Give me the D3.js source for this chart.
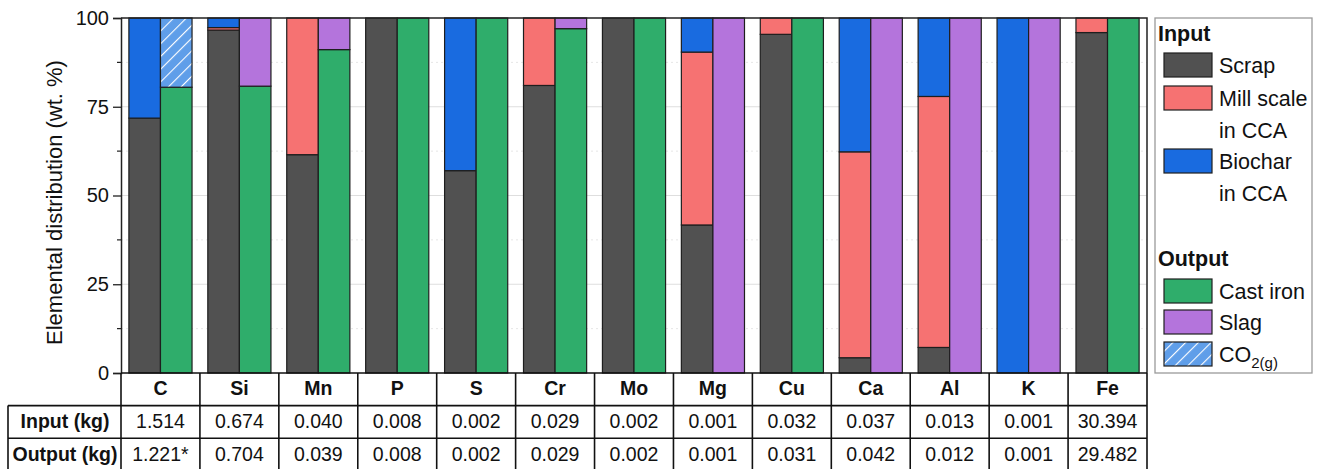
<!DOCTYPE html>
<html>
<head>
<meta charset="utf-8">
<script src="https://d3js.org/d3.v7.min.js"></script>
<style>
  body { margin: 0; background: #fff; }
  svg { display: block; font-family: "Liberation Sans", Arial, sans-serif; }
</style>
</head>
<body>
<div id="chart"></div>
<script>
// categories (elements)
const categories = ["C", "Si", "Mn", "P", "S", "Cr", "Mo", "Mg", "Cu", "Ca", "Al", "K", "Fe"];

// input distribution (wt.%)
const scrap     = [71.8, 96.6, 61.5, 100, 57.0, 81.0, 100, 41.7, 95.4, 4.3, 7.2, 0, 95.9];
const millScale = [0, 0.7, 38.5, 0, 0, 19.0, 0, 48.7, 4.6, 58.0, 70.7, 0, 4.1];
const biochar   = [28.2, 2.7, 0, 0, 43.0, 0, 0, 9.6, 0, 37.7, 22.1, 100, 0];

// output distribution (wt.%)
const castIron = [80.5, 80.8, 91.1, 100, 100, 97.0, 100, 0, 100, 0, 0, 0, 100];
const slag     = [0, 19.2, 8.9, 0, 0, 3.0, 0, 100, 0, 100, 100, 100, 0];
const co2      = [19.5, 0, 0, 0, 0, 0, 0, 0, 0, 0, 0, 0, 0];

// table rows
const inputKg  = ["1.514", "0.674", "0.040", "0.008", "0.002", "0.029", "0.002", "0.001", "0.032", "0.037", "0.013", "0.001", "30.394"];
const outputKg = ["1.221*", "0.704", "0.039", "0.008", "0.002", "0.029", "0.002", "0.001", "0.031", "0.042", "0.012", "0.001", "29.482"];

const yTicks = [0, 25, 50, 75, 100];
const yMinor = [12.5, 37.5, 62.5, 87.5];

const colors = {
  scrap: "#515151", mill: "#f67272", biochar: "#196be0",
  cast: "#2fad6b", slag: "#b474dc", co2: "#5f9ee9"
};

const W = 1320, H = 469;
const plot = { left: 121, right: 1147, top: 18, bottom: 373 };
const rowH = 32.6;
const tableFont = 19.5;

const svg = d3.select("#chart").append("svg").attr("width", W).attr("height", H);

// hatch pattern for CO2
const defs = svg.append("defs");
const pat = defs.append("pattern")
  .attr("id", "hatch").attr("patternUnits", "userSpaceOnUse")
  .attr("width", 9).attr("height", 9)
  .attr("patternTransform", "rotate(45)");
pat.append("rect").attr("width", 9).attr("height", 9).attr("fill", colors.co2);
pat.append("line").attr("x1", 0).attr("y1", 0).attr("x2", 0).attr("y2", 9)
  .attr("stroke", "#fff").attr("stroke-width", 2.2);

const x = d3.scaleBand().domain(categories).range([plot.left, plot.right]).padding(0);
const sub = d3.scaleBand().domain(["in", "out"]).range([0, x.bandwidth()]).paddingInner(0).paddingOuter(0.25);
const y = d3.scaleLinear().domain([0, 100]).range([plot.bottom, plot.top]);

// gridlines
svg.append("g").selectAll("line").data(yTicks.filter(d => d > 0 && d < 100)).join("line")
  .attr("x1", plot.left).attr("x2", plot.right)
  .attr("y1", d => y(d)).attr("y2", d => y(d))
  .attr("stroke", "#dedede").attr("stroke-width", 1);
svg.append("g").selectAll("line").data(yMinor).join("line")
  .attr("x1", plot.left).attr("x2", plot.right)
  .attr("y1", d => y(d)).attr("y2", d => y(d))
  .attr("stroke", "#e6e6e6").attr("stroke-width", 1).attr("stroke-dasharray", "2,3");

// stacked bars
const inputSeries = [
  { key: "scrap", vals: scrap, fill: colors.scrap },
  { key: "mill", vals: millScale, fill: colors.mill },
  { key: "biochar", vals: biochar, fill: colors.biochar }
];
const outputSeries = [
  { key: "cast", vals: castIron, fill: colors.cast },
  { key: "slag", vals: slag, fill: colors.slag },
  { key: "co2", vals: co2, fill: "url(#hatch)" }
];

function drawStack(series, which) {
  const segs = [];
  categories.forEach((c, i) => {
    let acc = 0;
    series.forEach(s => {
      const v = s.vals[i];
      if (v > 0) segs.push({ c, y0: acc, y1: acc + v, fill: s.fill });
      acc += v;
    });
  });
  svg.append("g").selectAll("rect").data(segs).join("rect")
    .attr("x", d => x(d.c) + sub(which))
    .attr("width", sub.bandwidth())
    .attr("y", d => y(Math.min(d.y1, 100)))
    .attr("height", d => y(d.y0) - y(Math.min(d.y1, 100)))
    .attr("fill", d => d.fill)
    .attr("stroke", "#1e1e1e").attr("stroke-width", 1.2);
}
drawStack(inputSeries, "in");
drawStack(outputSeries, "out");

// frame (top + right)
svg.append("path")
  .attr("d", `M${plot.left},${plot.top}H${plot.right}V${plot.bottom}`)
  .attr("fill", "none").attr("stroke", "#222").attr("stroke-width", 1.5);

// y axis
const yAxis = svg.append("g").attr("transform", `translate(${plot.left},0)`)
  .call(d3.axisLeft(y).tickValues(yTicks).tickSize(8).tickPadding(4));
yAxis.select(".domain").attr("stroke", "#222").attr("stroke-width", 1.5);
yAxis.selectAll(".tick line").attr("stroke", "#222").attr("stroke-width", 1.3);
yAxis.selectAll(".tick text").attr("font-size", 20).attr("fill", "#111")
  .attr("font-family", "'Liberation Sans', Arial, sans-serif");
svg.append("g").selectAll("line").data(yMinor).join("line")
  .attr("x1", plot.left - 4).attr("x2", plot.left)
  .attr("y1", d => y(d)).attr("y2", d => y(d))
  .attr("stroke", "#222").attr("stroke-width", 1.2);

svg.append("text")
  .attr("transform", `translate(56,${(plot.top + plot.bottom) / 2 + 7}) rotate(-90)`)
  .attr("text-anchor", "middle").attr("dominant-baseline", "middle")
  .attr("font-size", 22).attr("fill", "#111")
  .text("Elemental distribution (wt. %)");

// table
const tbl = svg.append("g");
const r0 = plot.bottom, r1 = r0 + rowH, r2 = r1 + rowH, r3 = r2 + rowH;
const lineStyle = sel => sel.attr("stroke", "#111").attr("stroke-width", 1.6);

tbl.selectAll("text.cat").data(categories).join("text").attr("class", "cat")
  .attr("x", d => x(d) + x.bandwidth() / 2).attr("y", (r0 + r1) / 2 + 1)
  .attr("text-anchor", "middle").attr("dominant-baseline", "middle")
  .attr("font-size", tableFont).attr("font-weight", "bold").attr("fill", "#111").text(d => d);
tbl.selectAll("text.in").data(inputKg).join("text").attr("class", "in")
  .attr("x", (d, i) => x(categories[i]) + x.bandwidth() / 2).attr("y", (r1 + r2) / 2 + 1)
  .attr("text-anchor", "middle").attr("dominant-baseline", "middle")
  .attr("font-size", tableFont).attr("fill", "#111").text(d => d);
tbl.selectAll("text.out").data(outputKg).join("text").attr("class", "out")
  .attr("x", (d, i) => x(categories[i]) + x.bandwidth() / 2).attr("y", (r2 + r3) / 2 + 1)
  .attr("text-anchor", "middle").attr("dominant-baseline", "middle")
  .attr("font-size", tableFont).attr("fill", "#111").text(d => d);
tbl.append("text").attr("x", 65).attr("y", (r1 + r2) / 2 + 1)
  .attr("text-anchor", "middle").attr("dominant-baseline", "middle")
  .attr("font-size", tableFont).attr("font-weight", "bold").attr("fill", "#111").text("Input (kg)");
tbl.append("text").attr("x", 65).attr("y", (r2 + r3) / 2 + 1)
  .attr("text-anchor", "middle").attr("dominant-baseline", "middle")
  .attr("font-size", tableFont).attr("font-weight", "bold").attr("fill", "#111").text("Output (kg)");

// table grid
const colEdges = categories.map(c => x(c)).concat([plot.right]);
tbl.selectAll("line.v").data(colEdges).join("line").attr("class", "v")
  .attr("x1", d => d).attr("x2", d => d).attr("y1", r0).attr("y2", r3)
  .call(lineStyle);
tbl.append("line").attr("x1", 8).attr("x2", 8).attr("y1", r1).attr("y2", r3).call(lineStyle);
[r1, r2, r3].forEach(r => {
  tbl.append("line").attr("x1", 8).attr("x2", plot.right).attr("y1", r).attr("y2", r).call(lineStyle);
});
tbl.append("line").attr("x1", plot.left).attr("x2", plot.right).attr("y1", r0).attr("y2", r0).call(lineStyle);

// legend
const legendInput = [
  { label: ["Scrap"], fill: colors.scrap, y: 53 },
  { label: ["Mill scale", "in CCA"], fill: colors.mill, y: 86 },
  { label: ["Biochar", "in CCA"], fill: colors.biochar, y: 149 }
];
const legendOutput = [
  { label: ["Cast iron"], fill: colors.cast, y: 279 },
  { label: ["Slag"], fill: colors.slag, y: 310 },
  { label: ["CO2"], fill: "url(#hatch)", y: 342, co2: true }
];
const lg = svg.append("g");
lg.append("rect").attr("x", 1155).attr("y", 18).attr("width", 157).attr("height", 355)
  .attr("fill", "#fff").attr("stroke", "#9a9a9a").attr("stroke-width", 1.3);
lg.append("text").attr("x", 1158).attr("y", 41).attr("font-size", 21.5)
  .attr("font-weight", "bold").attr("fill", "#111").text("Input");
lg.append("text").attr("x", 1158).attr("y", 266).attr("font-size", 21.5)
  .attr("font-weight", "bold").attr("fill", "#111").text("Output");

legendInput.concat(legendOutput).forEach(d => {
  lg.append("rect").attr("x", 1164).attr("y", d.y).attr("width", 48).attr("height", 24)
    .attr("fill", d.fill).attr("stroke", "#1e1e1e").attr("stroke-width", 1.2);
  d.label.forEach((t, k) => {
    const tx = lg.append("text").attr("x", 1219).attr("y", d.y + 20 + k * 32)
      .attr("font-size", 21.5).attr("fill", "#111");
    if (d.co2) {
      tx.append("tspan").text("CO");
      tx.append("tspan").attr("font-size", 15).attr("dy", 6).text("2(g)");
    } else {
      tx.text(t);
    }
  });
});
</script>
</body>
</html>
